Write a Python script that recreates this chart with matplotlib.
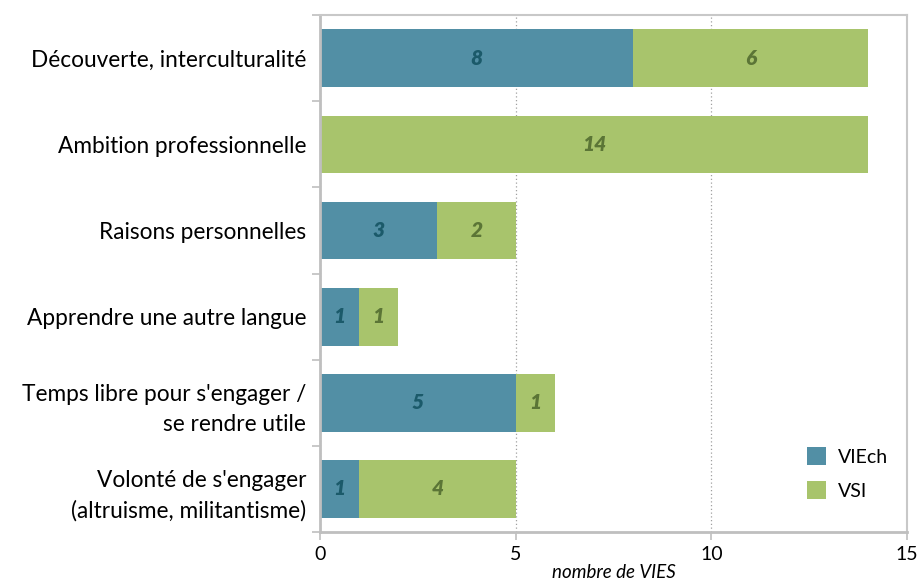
import matplotlib
matplotlib.use("Agg")
import matplotlib.pyplot as plt
from matplotlib.ticker import FixedLocator

categories = [
    "Découverte, interculturalité",
    "Ambition professionnelle",
    "Raisons personnelles",
    "Apprendre une autre langue",
    "Temps libre pour s'engager /\nse rendre utile",
    "Volonté de s'engager\n(altruisme, militantisme)",
]
viech = [8, 0, 3, 1, 5, 1]
vsi = [6, 14, 2, 1, 1, 4]
xticks = [0, 5, 10, 15]

plt.rcParams["font.family"] = ["Lato", "DejaVu Sans"]

teal = "#528FA5"
green = "#A8C46C"
teal_txt = "#1B5A6A"
green_txt = "#5B7536"
axis_grey = "#BFBFBF"

fig = plt.figure(figsize=(9.23, 5.85), dpi=100)
ax = fig.add_axes([0.3467, 0.0906, 0.636, 0.8834])

ypos = list(range(len(categories)))
h = 0.67
b1 = ax.barh(ypos, viech, height=h, color=teal, label="VIEch", zorder=2)
b2 = ax.barh(ypos, vsi, left=viech, height=h, color=green, label="VSI", zorder=2)

for vals, starts, col in [(viech, [0] * 6, teal_txt), (vsi, viech, green_txt)]:
    for y, v, s in zip(ypos, vals, starts):
        if v > 0:
            ax.text(s + v / 2, y, str(v), ha="center", va="center",
                    fontsize=15, fontweight="heavy", fontstyle="italic",
                    color=col, zorder=3)

ax.set_xlim(0, 15)
ax.set_ylim(len(categories) - 0.5, -0.5)
ax.set_xticks(xticks)
ax.set_yticks(ypos)
ax.set_yticklabels(categories, fontsize=16.3, linespacing=1.55)
ax.yaxis.set_minor_locator(FixedLocator([i + 0.5 for i in range(-1, len(categories))]))
ax.tick_params(axis="y", which="major", length=0, pad=10)
ax.tick_params(axis="y", which="minor", length=6, color=axis_grey, width=1.2)
ax.tick_params(axis="x", length=6, color=axis_grey, width=1.2, labelsize=14, pad=4)

ax.grid(axis="x", linestyle=(0, (1, 2)), color="#A0A0A0", linewidth=0.9, zorder=1)

for side in ["left", "bottom"]:
    ax.spines[side].set_color(axis_grey)
    ax.spines[side].set_linewidth(2)
for side in ["top", "right"]:
    ax.spines[side].set_color("#C8C8C8")
    ax.spines[side].set_linewidth(1.5)

ax.set_xlabel("nombre de VIES", fontsize=13.5, fontstyle="italic", labelpad=1)

ax.legend(loc="lower right", frameon=False, fontsize=14, handlelength=1.0,
          handleheight=1.0, labelspacing=0.8, handletextpad=0.6,
          bbox_to_anchor=(0.997, 0.029))

fig.savefig("out.png", dpi=100)
